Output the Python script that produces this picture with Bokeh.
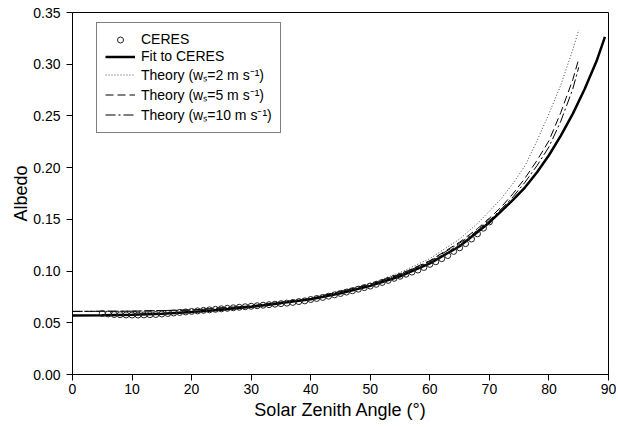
from bokeh.plotting import figure
from bokeh.models import FixedTicker, NumeralTickFormatter, Range1d, Legend, LegendItem
from bokeh.embed import file_html
from bokeh.resources import INLINE

# CERES observations (solar zenith angle in degrees, albedo)
ceres_sza = list(range(5, 71))
ceres_alb = [0.0590, 0.0585, 0.0580, 0.0578, 0.0576, 0.0575, 0.0575, 0.0576, 0.0578, 0.0580,
             0.0585, 0.0590, 0.0595, 0.0600, 0.0605, 0.0610, 0.0615, 0.0620, 0.0625, 0.0630,
             0.0635, 0.0640, 0.0645, 0.0650, 0.0655, 0.0660, 0.0665, 0.0670, 0.0675, 0.0680,
             0.0685, 0.0690, 0.0697, 0.0705, 0.0712, 0.0725, 0.0735, 0.0745, 0.0757, 0.0770,
             0.0783, 0.0797, 0.0810, 0.0825, 0.0840, 0.0855, 0.0872, 0.0890, 0.0910, 0.0930,
             0.0950, 0.0970, 0.0990, 0.1010, 0.1035, 0.1065, 0.1090, 0.1120, 0.1150, 0.1190,
             0.1225, 0.1265, 0.1310, 0.1360, 0.1415, 0.1475]

# Fit to CERES
fit_sza = [0, 5, 10, 15, 20, 25, 30, 35, 40, 45, 50, 55, 60, 65, 70, 72, 74, 76, 78, 80,
           82, 84, 86, 88, 89.4]
fit_alb = [0.0570, 0.0573, 0.0578, 0.0588, 0.0605, 0.0627, 0.0655, 0.0690, 0.0727, 0.0785,
           0.0857, 0.0950, 0.1075, 0.1240, 0.1470, 0.1580, 0.1690, 0.1810, 0.1955, 0.2120,
           0.2310, 0.2520, 0.2760, 0.3030, 0.3265]

# Theory curves
th_sza = [0, 10, 20, 30, 40, 50, 55, 60, 65, 68, 70, 72, 74, 76, 78, 80, 82, 84, 85]
th2_alb = [0.0610, 0.0612, 0.0625, 0.0665, 0.0738, 0.0880, 0.0985, 0.1120, 0.1310, 0.1460,
           0.1580, 0.1700, 0.1850, 0.2020, 0.2260, 0.2520, 0.2800, 0.3140, 0.3330]
th5_alb = [0.0610, 0.0612, 0.0624, 0.0663, 0.0735, 0.0873, 0.0970, 0.1100, 0.1280, 0.1410,
           0.1510, 0.1620, 0.1750, 0.1900, 0.2070, 0.2260, 0.2535, 0.2850, 0.3050]
th10_alb = [0.0610, 0.0612, 0.0623, 0.0662, 0.0733, 0.0870, 0.0965, 0.1095, 0.1270, 0.1390,
            0.1490, 0.1600, 0.1720, 0.1860, 0.2020, 0.2200, 0.2450, 0.2760, 0.2970]

x_ticks = [0, 10, 20, 30, 40, 50, 60, 70, 80, 90]
y_ticks = [0.0, 0.05, 0.10, 0.15, 0.20, 0.25, 0.30, 0.35]

FONT = "Liberation Sans"

p = figure(width=616, height=422, x_range=Range1d(0, 90), y_range=Range1d(0, 0.35),
           output_backend="svg", toolbar_location=None,
           min_border_left=72, min_border_right=8, min_border_top=12, min_border_bottom=46)
p.background_fill_color = "white"
p.border_fill_color = "white"
p.outline_line_color = "black"
p.outline_line_width = 1
p.xgrid.visible = False
p.ygrid.visible = False

for ax in (p.xaxis[0], p.yaxis[0]):
    ax.major_tick_in = 0
    ax.major_tick_out = 6
    ax.minor_tick_line_color = None
    ax.axis_line_color = "black"
    ax.major_tick_line_color = "black"
    ax.major_label_text_font = FONT
    ax.major_label_text_font_size = "14px"
    ax.major_label_text_color = "black"
    ax.axis_label_text_font = FONT
    ax.axis_label_text_font_size = "18px"
    ax.axis_label_text_font_style = "normal"
    ax.axis_label_text_color = "black"

p.xaxis.ticker = FixedTicker(ticks=x_ticks)
p.yaxis.ticker = FixedTicker(ticks=y_ticks)
p.yaxis.formatter = NumeralTickFormatter(format="0.00")
p.xaxis.axis_label = "Solar Zenith Angle (°)"
p.yaxis.axis_label = "Albedo"
p.xaxis.major_label_standoff = 3
p.xaxis.axis_label_standoff = 3
p.yaxis.major_label_standoff = 6
p.yaxis.axis_label_standoff = -1

r_th2 = p.line(th_sza, th2_alb, line_color="#444444", line_width=1, line_dash="1 2")
r_th5 = p.line(th_sza, th5_alb, line_color="black", line_width=1, line_dash="8 4")
r_th10 = p.line(th_sza, th10_alb, line_color="black", line_width=1, line_dash="10 3 2 3")
r_fit = p.line(fit_sza, fit_alb, line_color="black", line_width=2.5)
r_ceres = p.scatter(ceres_sza, ceres_alb, marker="circle", size=6, fill_color="white",
                    fill_alpha=0.0, line_color="#222222", line_width=1)

legend = Legend(items=[
    LegendItem(label="CERES", renderers=[r_ceres]),
    LegendItem(label="Fit to CERES", renderers=[r_fit]),
    LegendItem(label="Theory (wₛ=2 m s⁻¹)", renderers=[r_th2]),
    LegendItem(label="Theory (wₛ=5 m s⁻¹)", renderers=[r_th5]),
    LegendItem(label="Theory (wₛ=10 m s⁻¹)", renderers=[r_th10]),
], location=(24, 241))
legend.margin = 0
legend.padding = 8
legend.spacing = 1
legend.glyph_width = 30
legend.glyph_height = 15
legend.label_height = 15
legend.label_standoff = 6
legend.label_text_font = FONT
legend.label_text_font_size = "14px"
legend.label_text_color = "black"
legend.border_line_color = "black"
legend.border_line_width = 1
legend.background_fill_color = "white"
legend.background_fill_alpha = 1.0
p.add_layout(legend)

open("out.html", "w").write(file_html(p, INLINE))
